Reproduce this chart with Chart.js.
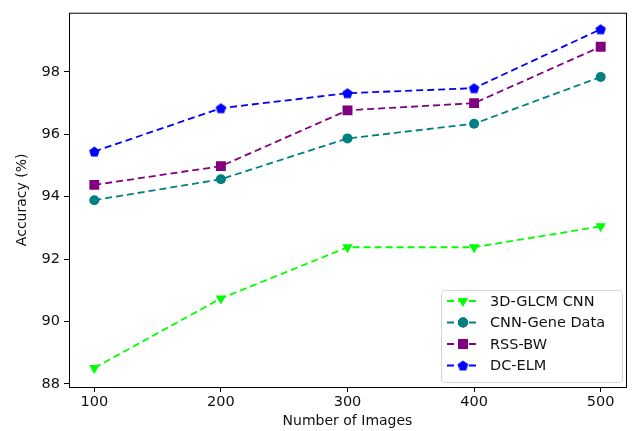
<!DOCTYPE html>
<html>
<head>
<meta charset="utf-8">
<script src="https://cdn.jsdelivr.net/npm/chart.js@4"></script>
<style>
  html, body { margin: 0; padding: 0; background: #fff; }
  #wrap { width: 633px; height: 431px; }
</style>
</head>
<body>
<div id="wrap"><canvas id="c" width="633" height="431"></canvas></div>
<script>
const images = [100, 200, 300, 400, 500];
const glcmCnn = [88.51, 90.74, 92.38, 92.38, 93.05];
const cnnGene = [93.89, 94.56, 95.87, 96.34, 97.84];
const rssBw = [94.38, 94.98, 96.77, 97.0, 98.81];
const dcElm = [95.45, 96.84, 97.32, 97.48, 99.37];
const xTicks = [100, 200, 300, 400, 500];
const yTicks = [88, 90, 92, 94, 96, 98];

const FONT = '"DejaVu Sans", sans-serif';

// matplotlib pentagon marker, Chart.js has none
function pentagon(color, r) {
  const c = document.createElement('canvas');
  const s = Math.ceil(r * 2 + 2);
  c.width = s; c.height = s;
  const g = c.getContext('2d');
  g.fillStyle = color;
  g.beginPath();
  for (let i = 0; i < 5; i++) {
    const a = -Math.PI / 2 + i * 2 * Math.PI / 5;
    const px = s / 2 + r * Math.cos(a), py = s / 2 + 0.5 + r * Math.sin(a);
    i ? g.lineTo(px, py) : g.moveTo(px, py);
  }
  g.closePath();
  g.fill();
  return c;
}

function series(label, data, color, style, radius, extra) {
  return Object.assign({
    label,
    data: images.map((x, i) => ({ x, y: data[i] })),
    borderColor: color,
    backgroundColor: color,
    borderWidth: 1.8,
    borderDash: [7, 4],
    pointStyle: style,
    pointRadius: radius,
    pointBorderWidth: 0,
    tension: 0,
  }, extra || {});
}

const datasets = [
  series('3D-GLCM CNN', glcmCnn, '#00ff00', 'triangle', 6, { pointRotation: 180 }),
  series('CNN-Gene Data', cnnGene, '#008080', 'circle', 5),
  series('RSS-BW', rssBw, '#800080', 'rect', 7),
  series('DC-ELM', dcElm, '#0000ff', pentagon('#0000ff', 5.5), 5.5),
];

const framePlugin = {
  id: 'frame',
  afterDatasetsDraw(chart) {
    const { ctx, chartArea: a } = chart;
    ctx.save();
    ctx.strokeStyle = '#000';
    ctx.lineWidth = 1;
    ctx.strokeRect(a.left + 0.5, a.top + 0.5, a.right - a.left, a.bottom - a.top);
    ctx.restore();
  },
};

// legend box in the lower right corner, like matplotlib's loc='lower right'
const legendPlugin = {
  id: 'mplLegend',
  afterDraw(chart) {
    const { ctx } = chart;
    const box = { x: 441, y: 290, w: 181, h: 92 };
    ctx.save();
    ctx.fillStyle = 'rgba(255,255,255,0.8)';
    ctx.strokeStyle = '#d6d6d6';
    ctx.lineWidth = 1;
    ctx.beginPath();
    ctx.roundRect(box.x + 0.5, box.y + 0.5, box.w, box.h, 3);
    ctx.fill();
    ctx.stroke();
    ctx.font = '14.5px ' + FONT;
    ctx.textBaseline = 'middle';
    chart.data.datasets.forEach((ds, i) => {
      const y = 301 + i * 21.5;
      ctx.strokeStyle = ds.borderColor;
      ctx.lineWidth = 1.8;
      ctx.setLineDash([7, 4]);
      ctx.beginPath();
      ctx.moveTo(447, y);
      ctx.lineTo(479, y);
      ctx.stroke();
      ctx.setLineDash([]);
      Chart.helpers.drawPoint(ctx, {
        pointStyle: ds.pointStyle,
        radius: ds.pointRadius,
        rotation: ds.pointRotation || 0,
        borderWidth: 0,
      }, 463, y);
      ctx.fillStyle = ds.backgroundColor;
      ctx.fill();
      ctx.fillStyle = '#111';
      ctx.fillText(ds.label, 490, y + 1);
    });
    ctx.restore();
  },
};

new Chart(document.getElementById('c'), {
  type: 'line',
  data: { datasets },
  plugins: [framePlugin, legendPlugin],
  options: {
    responsive: false,
    animation: false,
    layout: { padding: { top: 12, right: 4, left: 0, bottom: 0 } },
    plugins: { legend: { display: false }, tooltip: { enabled: false } },
    scales: {
      x: {
        type: 'linear',
        min: 80,
        max: 520,
        afterBuildTicks: (s) => { s.ticks = xTicks.map(v => ({ value: v })); },
        afterFit: (s) => { s.height = 44; },
        grid: { drawOnChartArea: false, tickLength: 5, color: '#000' },
        border: { display: false },
        ticks: { color: '#111', font: { family: FONT, size: 14.5 }, padding: 2, maxRotation: 0 },
        title: {
          display: true, text: 'Number of Images', color: '#111',
          font: { family: FONT, size: 14 }, padding: { top: 0, bottom: 1 },
        },
      },
      y: {
        min: 87.9,
        max: 99.9,
        afterBuildTicks: (s) => { s.ticks = yTicks.map(v => ({ value: v })); },
        afterFit: (s) => { s.width = 69; },
        grid: { drawOnChartArea: false, tickLength: 5, color: '#000' },
        border: { display: false },
        ticks: { color: '#111', font: { family: FONT, size: 14.5 }, padding: 4 },
        title: {
          display: true, text: 'Accuracy (%)', color: '#111',
          font: { family: FONT, size: 14 }, padding: { top: 14, bottom: 0 },
        },
      },
    },
  },
});
</script>
</body>
</html>
